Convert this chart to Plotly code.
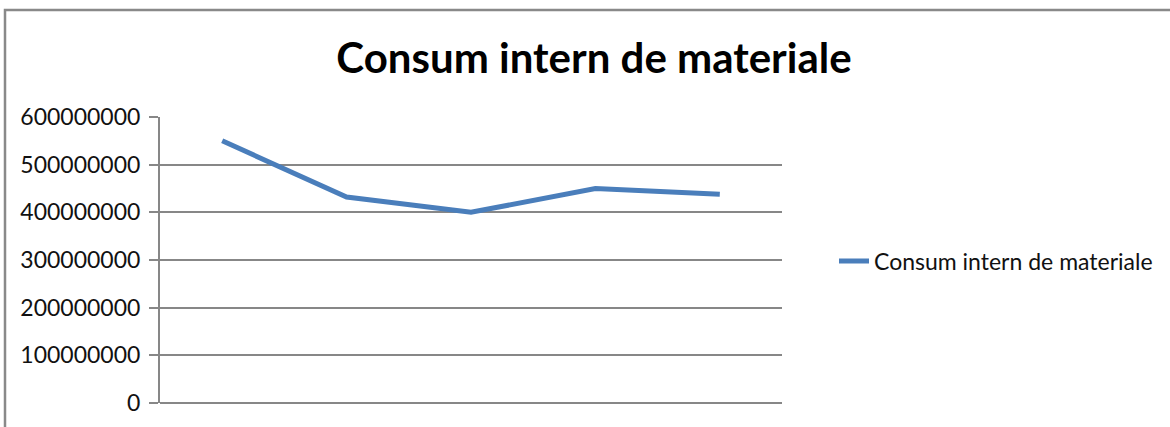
import plotly.graph_objects as go

# Series data
series_name = "Consum intern de materiale"
periods = [1, 2, 3, 4, 5]
values = [550000000, 432000000, 400000000, 450000000, 438000000]
y_ticks = [0, 100000000, 200000000, 300000000, 400000000, 500000000, 600000000]

W, H = 1170, 427
left, right, top, bottom = 160, 782, 117, 403
pw, ph = right - left, bottom - top

grid_color = "#878787"
line_color = "#4a7ebb"

fig = go.Figure()
fig.add_trace(go.Scatter(
    x=periods, y=values, mode="lines", name=series_name,
    line=dict(color=line_color, width=5),
    showlegend=True,
))


def px_x(px):
    return (px - left) / pw


def px_y(py):
    return (bottom - py) / ph


# outer chart frame (only top and left edges fall inside the page)
fig.add_shape(type="rect", xref="paper", yref="paper",
              x0=px_x(5), x1=px_x(1300), y0=px_y(600), y1=px_y(10),
              line=dict(color="#898989", width=2.5), layer="below")

fig.update_layout(
    width=W, height=H,
    margin=dict(l=left, r=W - right, t=top, b=H - bottom),
    paper_bgcolor="white", plot_bgcolor="white",
    font=dict(family="Lato, Open Sans, sans-serif", color="#111111"),
    title=dict(text="<b>Consum intern de materiale</b>",
               x=594 / W, xanchor="center", y=1 - 58 / H, yanchor="middle",
               font=dict(size=42, color="#000000", family="Lato, sans-serif")),
    xaxis=dict(range=[0.5, 5.5], showticklabels=False, showgrid=False,
               zeroline=False, showline=False, ticks=""),
    yaxis=dict(range=[0, 600000000], tickvals=y_ticks,
               ticktext=[str(v) for v in y_ticks],
               showgrid=True, gridcolor=grid_color, gridwidth=1.5,
               zeroline=True, zerolinecolor=grid_color, zerolinewidth=2,
               showline=True, linecolor=grid_color, linewidth=2,
               ticks="outside", ticklen=9, tickcolor=grid_color, tickwidth=2,
               tickfont=dict(size=23, color="#111111"), ticklabelstandoff=4),
    legend=dict(x=px_x(834), xanchor="left", y=px_y(261), yanchor="middle",
                font=dict(size=23, color="#111111"), bgcolor="rgba(0,0,0,0)",
                borderwidth=0),
)

fig.write_html("out.html")
